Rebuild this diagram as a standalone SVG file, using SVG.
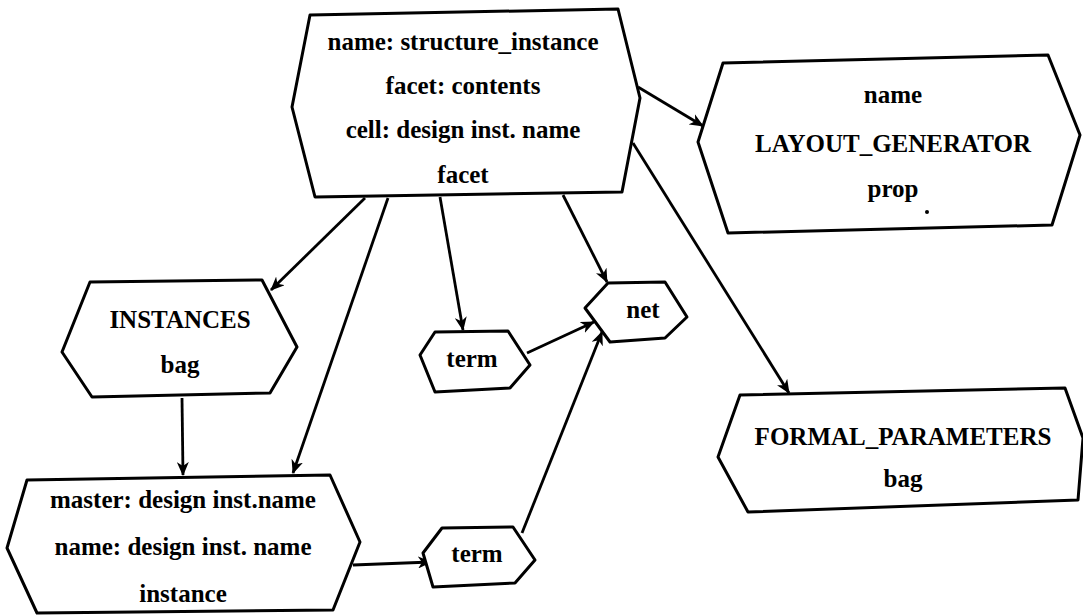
<svg xmlns="http://www.w3.org/2000/svg" width="1083" height="615" viewBox="0 0 1083 615">
<style>
.node{fill:#fff;stroke:#000;stroke-width:3;stroke-linejoin:round}
.edge{fill:none;stroke:#000;stroke-width:2.8;marker-end:url(#arr)}
text{font-family:"Liberation Serif","Times New Roman",serif;font-weight:bold;font-size:25px;text-anchor:middle;fill:#000}
</style>
<defs>
<marker id="arr" viewBox="0 0 14 12" refX="13" refY="6" markerWidth="14" markerHeight="12" markerUnits="userSpaceOnUse" orient="auto">
<path d="M0,0 L14,6 L0,12 L4,6 z" fill="#000"/>
</marker>
</defs>
<rect width="1083" height="615" fill="#fff"/>
<g id="connectors">
<line class="edge" x1="365" y1="198" x2="271" y2="290"/>
<line class="edge" x1="388" y1="198" x2="293" y2="473"/>
<line class="edge" x1="440" y1="197" x2="463" y2="330"/>
<line class="edge" x1="563" y1="195" x2="607" y2="282"/>
<line class="edge" x1="638" y1="87" x2="703" y2="126"/>
<line class="edge" x1="633" y1="143" x2="789" y2="393"/>
<line class="edge" x1="182" y1="398" x2="183" y2="475"/>
<line class="edge" x1="527" y1="353" x2="594" y2="322"/>
<line class="edge" x1="522" y1="533" x2="602" y2="332"/>
<line class="edge" x1="353" y1="565" x2="431" y2="562"/>
</g>
<g id="structure_instance">
<polygon class="node" points="310,15 618,9 640,98 622,192 315,197 292,107"/>
<text x="463" y="50">name: structure_instance</text>
<text x="463" y="94">facet: contents</text>
<text x="463" y="138">cell: design inst. name</text>
<text x="463" y="183">facet</text>
</g>
<g id="layout_generator">
<polygon class="node" points="723,63 1048,55 1080,135 1052,225 728,233 698,142"/>
<text x="893" y="103">name</text>
<text x="893" y="152">LAYOUT_GENERATOR</text>
<text x="893" y="197">prop</text>
<circle cx="927" cy="212" r="2" fill="#000"/>
</g>
<g id="instances_bag">
<polygon class="node" points="90,282 262,280 297,347 270,393 92,397 62,352"/>
<text x="180" y="328">INSTANCES</text>
<text x="180" y="373">bag</text>
</g>
<g id="instance">
<polygon class="node" points="27,480 330,475 360,542 333,610 37,613 7,548"/>
<text x="183" y="508">master: design inst.name</text>
<text x="183" y="555">name: design inst. name</text>
<text x="183" y="602">instance</text>
</g>
<g id="net">
<polygon class="node" points="608,283 665,282 687,317 665,338 610,342 585,308"/>
<text x="643" y="318">net</text>
</g>
<g id="term1">
<polygon class="node" points="435,332 508,331 530,365 510,388 435,392 420,355"/>
<text x="472" y="367">term</text>
</g>
<g id="term2">
<polygon class="node" points="442,528 513,527 535,560 515,583 433,587 423,553"/>
<text x="477" y="562">term</text>
</g>
<g id="formal_parameters">
<polygon class="node" points="740,395 1065,388 1083,438 1078,500 748,512 718,457"/>
<text x="903" y="445">FORMAL_PARAMETERS</text>
<text x="903" y="487">bag</text>
</g>
</svg>
